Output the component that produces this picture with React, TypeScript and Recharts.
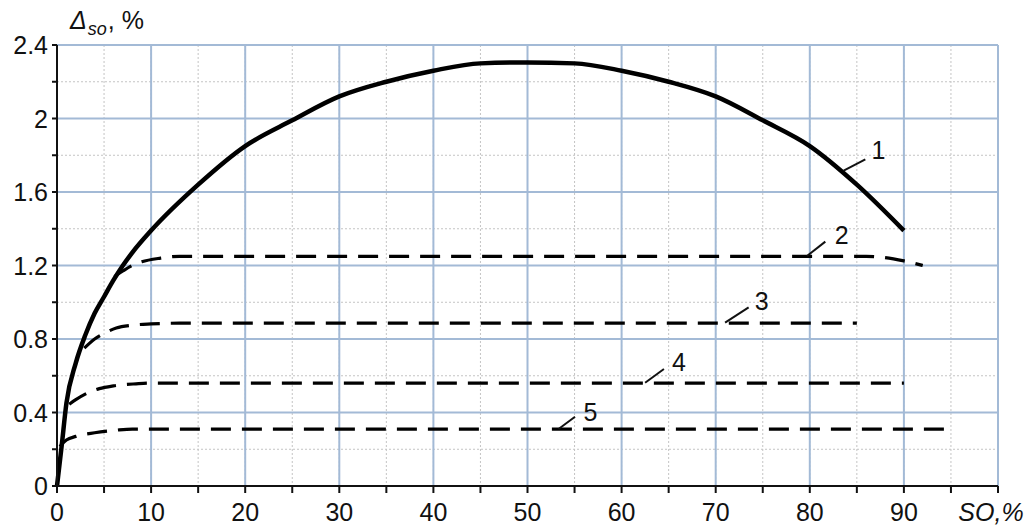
import React from 'react';
import {
  LineChart,
  Line,
  XAxis,
  YAxis,
  CartesianGrid,
  ReferenceLine,
  ReferenceDot
} from 'recharts';

// curve 1 (solid) and curves 2..5 (dashed): [SO %, delta %]
const curve1 = [
  [0, 0], [0.5, 0.22], [1, 0.45], [2, 0.67], [3, 0.82], [4, 0.94], [5, 1.03],
  [6, 1.12], [7, 1.2], [8, 1.27], [10, 1.39], [15, 1.64], [20, 1.85], [25, 1.99],
  [30, 2.12], [35, 2.2], [40, 2.26], [45, 2.3], [50, 2.305], [55, 2.3], [60, 2.26],
  [65, 2.2], [70, 2.12], [75, 1.99], [80, 1.85], [85, 1.64], [90, 1.39]
];
const curve2 = [
  [6.1, 1.14], [7, 1.17], [8, 1.2], [9, 1.22], [11, 1.24], [13, 1.25],
  [86, 1.25], [88, 1.243], [90, 1.225], [92, 1.2]
];
const curve3 = [
  [2.9, 0.75], [4, 0.8], [5, 0.83], [6.3, 0.86], [8, 0.875], [10, 0.882],
  [13, 0.886], [85, 0.886]
];
const curve4 = [
  [1.3, 0.445], [2, 0.47], [3, 0.5], [4.5, 0.53], [6, 0.545], [8.4, 0.556],
  [10, 0.56], [90, 0.56]
];
const curve5 = [
  [0.3, 0.215], [1, 0.25], [2, 0.27], [4, 0.29], [6.3, 0.304], [8, 0.31], [95, 0.31]
];

// curve number labels: leader from (x1,y1) to (x2,y2), label at (lx,ly)
const curveLabels = [
  { name: '1', x1: 83.6, y1: 1.716, x2: 85.9, y2: 1.778, lx: 87.3, ly: 1.826 },
  { name: '2', x1: 79.7, y1: 1.252, x2: 81.65, y2: 1.33, lx: 83.4, ly: 1.366 },
  { name: '3', x1: 71.0, y1: 0.889, x2: 73.5, y2: 0.972, lx: 74.9, ly: 1.008 },
  { name: '4', x1: 62.5, y1: 0.562, x2: 64.5, y2: 0.637, lx: 66.1, ly: 0.676 },
  { name: '5', x1: 53.3, y1: 0.31, x2: 55.05, y2: 0.377, lx: 56.7, ly: 0.404 }
];

const xTicks = [0, 5, 10, 15, 20, 25, 30, 35, 40, 45, 50, 55, 60, 65, 70, 75, 80, 85, 90, 95, 100];
const xMajor = [10, 20, 30, 40, 50, 60, 70, 80, 90, 100];
const yTicks = [0, 0.2, 0.4, 0.6, 0.8, 1, 1.2, 1.4, 1.6, 1.8, 2, 2.2, 2.4];
const yMajor = [0.4, 0.8, 1.2, 1.6, 2, 2.4];

const toPoints = (arr: number[][]) => arr.map(([x, y]) => ({ x, y }));

const FONT = '"Liberation Sans", Arial, sans-serif';

const XTick = ({ x, y, payload }: any) => {
  const v = payload.value;
  if (v === 100) {
    return (
      <text x={x - 7} y={y + 28} textAnchor="middle" fontSize={25} fontStyle="italic" fontFamily={FONT} fill="#111">
        SO,%
      </text>
    );
  }
  if (v % 10 !== 0) return null;
  return (
    <text x={x} y={y + 28} textAnchor="middle" fontSize={25} fontFamily={FONT} fill="#111">
      {v}
    </text>
  );
};

const YTick = ({ x, y, payload, index }: any) => {
  if (index % 2 !== 0) return null;
  return (
    <text x={x} y={y + 9} textAnchor="end" fontSize={25} fontFamily={FONT} fill="#111">
      {String(payload.value)}
    </text>
  );
};

const NumberLabel = (name: string) => (p: any) => (
  <text x={p.cx} y={p.cy + 9} textAnchor="middle" fontSize={25} fontFamily={FONT} fill="#111">
    {name}
  </text>
);

export default function App() {
  return (
    <div style={{ position: 'absolute', left: 0, top: 0, width: 1029, height: 529, background: '#fff' }}>
      <LineChart width={1029} height={529} margin={{ top: 45, right: 31, bottom: 0, left: 0 }}>
        <CartesianGrid
          stroke="#c4c4c4"
          strokeDasharray="2 2"
          strokeWidth={1}
          verticalValues={xTicks}
          horizontalValues={yTicks}
        />
        <CartesianGrid
          stroke="#a3bad6"
          strokeWidth={2}
          verticalValues={xMajor}
          horizontalValues={yMajor}
        />
        <XAxis
          type="number"
          dataKey="x"
          domain={[0, 100]}
          ticks={xTicks}
          interval={0}
          height={43}
          tickSize={7}
          tickMargin={0}
          tick={<XTick />}
          axisLine={{ stroke: '#111', strokeWidth: 2 }}
          tickLine={{ stroke: '#111', strokeWidth: 2 }}
        />
        <YAxis
          type="number"
          dataKey="y"
          domain={[0, 2.4]}
          ticks={yTicks}
          interval={0}
          width={57}
          tickSize={5}
          tickMargin={4}
          tick={<YTick />}
          axisLine={{ stroke: '#111', strokeWidth: 2 }}
          tickLine={{ stroke: '#111', strokeWidth: 2 }}
        />
        <Line data={toPoints(curve1)} dataKey="y" type="monotone" stroke="#000" strokeWidth={4.5} dot={false} isAnimationActive={false} />
        <Line data={toPoints(curve2)} dataKey="y" type="monotone" stroke="#000" strokeWidth={3.2} strokeDasharray="20 11" dot={false} isAnimationActive={false} />
        <Line data={toPoints(curve3)} dataKey="y" type="monotone" stroke="#000" strokeWidth={3.2} strokeDasharray="20 11" dot={false} isAnimationActive={false} />
        <Line data={toPoints(curve4)} dataKey="y" type="monotone" stroke="#000" strokeWidth={3.2} strokeDasharray="20 11" dot={false} isAnimationActive={false} />
        <Line data={toPoints(curve5)} dataKey="y" type="monotone" stroke="#000" strokeWidth={3.2} strokeDasharray="20 11" dot={false} isAnimationActive={false} />
        {curveLabels.map((c) => (
          <ReferenceLine
            key={'l' + c.name}
            segment={[{ x: c.x1, y: c.y1 }, { x: c.x2, y: c.y2 }]}
            stroke="#111"
            strokeWidth={2}
            ifOverflow="visible"
          />
        ))}
        {curveLabels.map((c) => (
          <ReferenceDot key={'d' + c.name} x={c.lx} y={c.ly} r={0} ifOverflow="visible" shape={NumberLabel(c.name)} />
        ))}
      </LineChart>
      <div
        style={{
          position: 'absolute',
          left: 70,
          top: 5,
          fontFamily: FONT,
          fontSize: 25,
          color: '#111',
          whiteSpace: 'nowrap',
          lineHeight: '30px'
        }}
      >
        <i>Δ</i>
        <i style={{ fontSize: 18, verticalAlign: -6, marginLeft: 1 }}>so</i>
        <span style={{ marginLeft: 1 }}>, %</span>
      </div>
    </div>
  );
}
